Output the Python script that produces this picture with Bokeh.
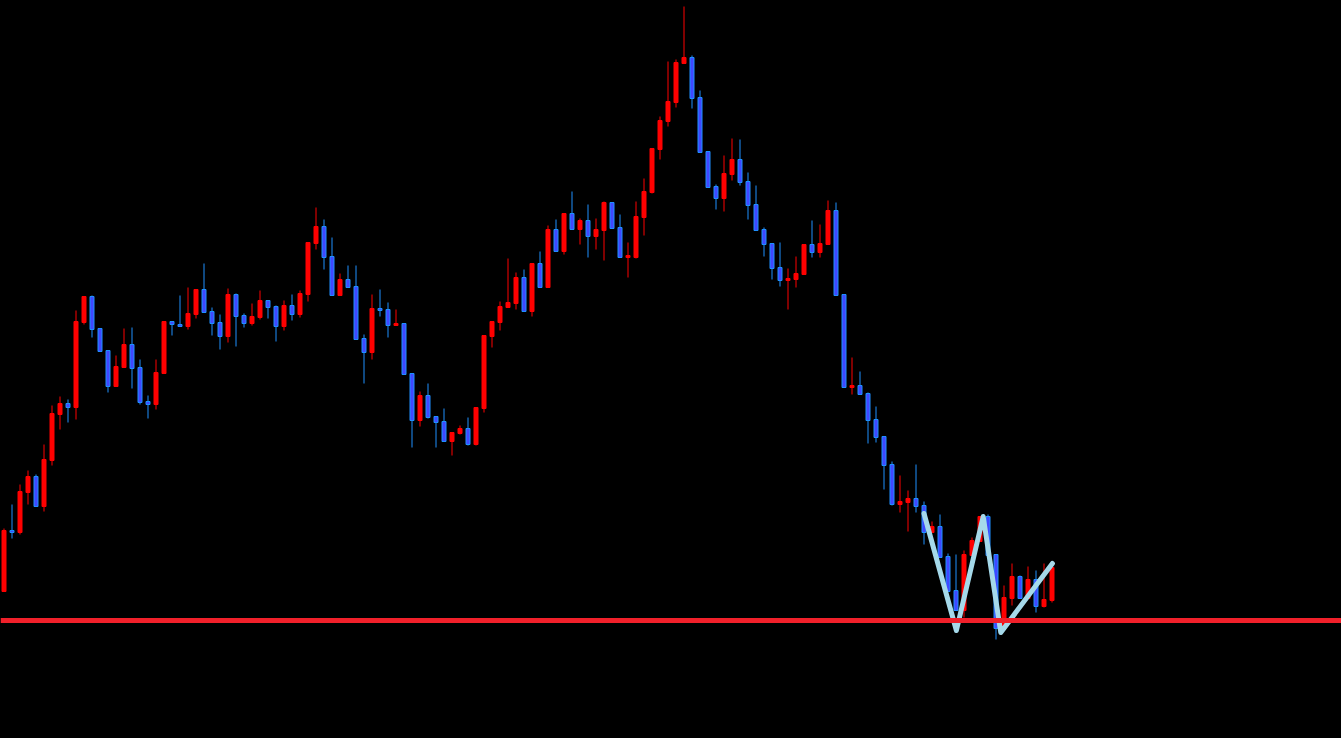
from bokeh.plotting import figure
from bokeh.models import ColumnDataSource, Range1d, Span
from bokeh.embed import file_html
from bokeh.resources import INLINE

# OHLC values (arbitrary price units)
opens  = [147,208,206,246,262,232,278,324,335,331,416,442,410,388,352,371,394,371,337,334,
          365,417,414,412,424,449,427,416,402,444,423,415,421,438,432,412,433,424,444,495,
          512,482,443,459,452,400,386,430,429,413,415,365,318,343,322,317,297,305,310,294,
          330,402,416,431,435,461,427,475,451,509,487,525,509,518,502,508,536,511,481,481,
          521,546,589,617,636,675,681,641,587,552,540,564,579,557,534,509,495,471,458,459,
          464,494,486,494,528,444,351,353,345,319,302,274,234,236,240,233,206,212,182,148,
          128,183,197,222,184,110,140,162,140,159,132,138]
highs  = [210,234,254,268,264,294,333,342,339,428,442,443,410,388,383,410,411,379,343,379,
          417,417,443,451,449,475,431,424,450,445,425,435,448,438,433,438,444,448,496,531,
          519,501,465,473,473,404,444,449,436,429,415,365,347,355,322,330,306,313,321,331,
          403,417,437,480,466,469,475,487,513,519,525,547,520,534,520,537,536,524,496,537,
          560,590,622,677,679,732,683,648,587,554,583,600,599,566,553,511,495,496,470,482,
          494,518,514,538,536,444,381,367,346,332,302,277,263,248,274,237,217,224,185,184,
          188,201,222,224,184,153,175,163,172,168,175,175]
lows   = [147,200,204,234,232,227,273,309,316,319,414,401,387,346,352,371,350,334,320,329,
          365,403,412,409,420,426,403,389,396,392,411,413,419,420,397,408,418,421,437,489,
          469,443,443,451,399,355,379,422,401,413,364,291,312,320,291,297,283,304,293,293,
          326,391,408,431,429,427,422,451,451,487,484,509,494,481,489,478,510,481,461,480,
          503,545,579,612,631,675,630,586,551,529,527,558,553,519,508,482,459,452,429,451,
          464,481,481,494,443,351,344,344,295,296,249,233,226,207,226,194,206,181,147,128,
          121,183,197,183,99,110,133,140,140,126,131,136]
closes = [208,206,247,262,232,279,325,335,331,417,442,409,387,352,372,394,370,336,334,366,
          417,414,412,425,449,426,415,402,444,422,415,422,438,431,412,433,424,445,496,512,
          481,443,459,451,399,386,430,428,413,415,364,318,343,321,316,297,306,310,294,331,
          403,417,432,436,461,427,475,451,509,487,525,509,518,502,509,536,510,481,483,522,
          547,590,618,637,676,681,640,586,551,540,565,579,556,533,508,494,470,458,460,465,
          494,486,495,528,443,351,353,344,318,301,273,234,237,240,232,206,212,181,147,128,
          184,198,222,183,110,141,162,140,159,132,139,171]

# support level and zigzag pattern
support_level = 118
zig_x = [115.0, 119.05, 122.4, 124.6, 131.05]
zig_y = [225, 108, 222, 106, 175]

n = len(opens)
idx = list(range(n))
up = [c >= o for o, c in zip(opens, closes)]

RED = "#ff0000"
BLUE_FILL = "#4048ff"
BLUE_LINE = "#1e90ff"

def sub(mask):
    sel = [i for i in idx if mask[i]]
    return ColumnDataSource(dict(
        x=sel,
        top=[max(opens[i], closes[i]) for i in sel],
        bottom=[min(opens[i], closes[i]) for i in sel],
        high=[highs[i] for i in sel],
        low=[lows[i] for i in sel],
    ))

src_up = sub(up)
src_dn = sub([not u for u in up])

W, H = 1341, 738
p = figure(width=W, height=H, output_backend="svg", toolbar_location=None,
           x_range=Range1d(-0.4375, 167.1875), y_range=Range1d(0, 738),
           background_fill_color="black", border_fill_color="black",
           min_border=0, min_border_left=0, min_border_right=0,
           min_border_top=0, min_border_bottom=0)
p.xaxis.visible = False
p.yaxis.visible = False
p.xgrid.visible = False
p.ygrid.visible = False
p.outline_line_color = None

p.segment(x0="x", y0="low", x1="x", y1="high", source=src_up, line_color=RED, line_width=1)
p.segment(x0="x", y0="low", x1="x", y1="high", source=src_dn, line_color=BLUE_LINE, line_width=1)
p.vbar(x="x", top="top", bottom="bottom", width=0.5, source=src_up,
       fill_color=RED, line_color=RED, line_width=1)
p.vbar(x="x", top="top", bottom="bottom", width=0.5, source=src_dn,
       fill_color=BLUE_FILL, line_color=BLUE_LINE, line_width=1)

p.add_layout(Span(location=support_level, dimension="width",
                  line_color="#f0202a", line_width=5))

p.line(zig_x, zig_y, line_color="#a5d9ea", line_width=5, line_join="round", line_cap="round")

html = file_html(p, INLINE)
html = html.replace("</head>",
    "<style>html,body{margin:0;padding:0;background:#000;overflow:hidden}</style></head>", 1)
open("out.html", "w").write(html)
